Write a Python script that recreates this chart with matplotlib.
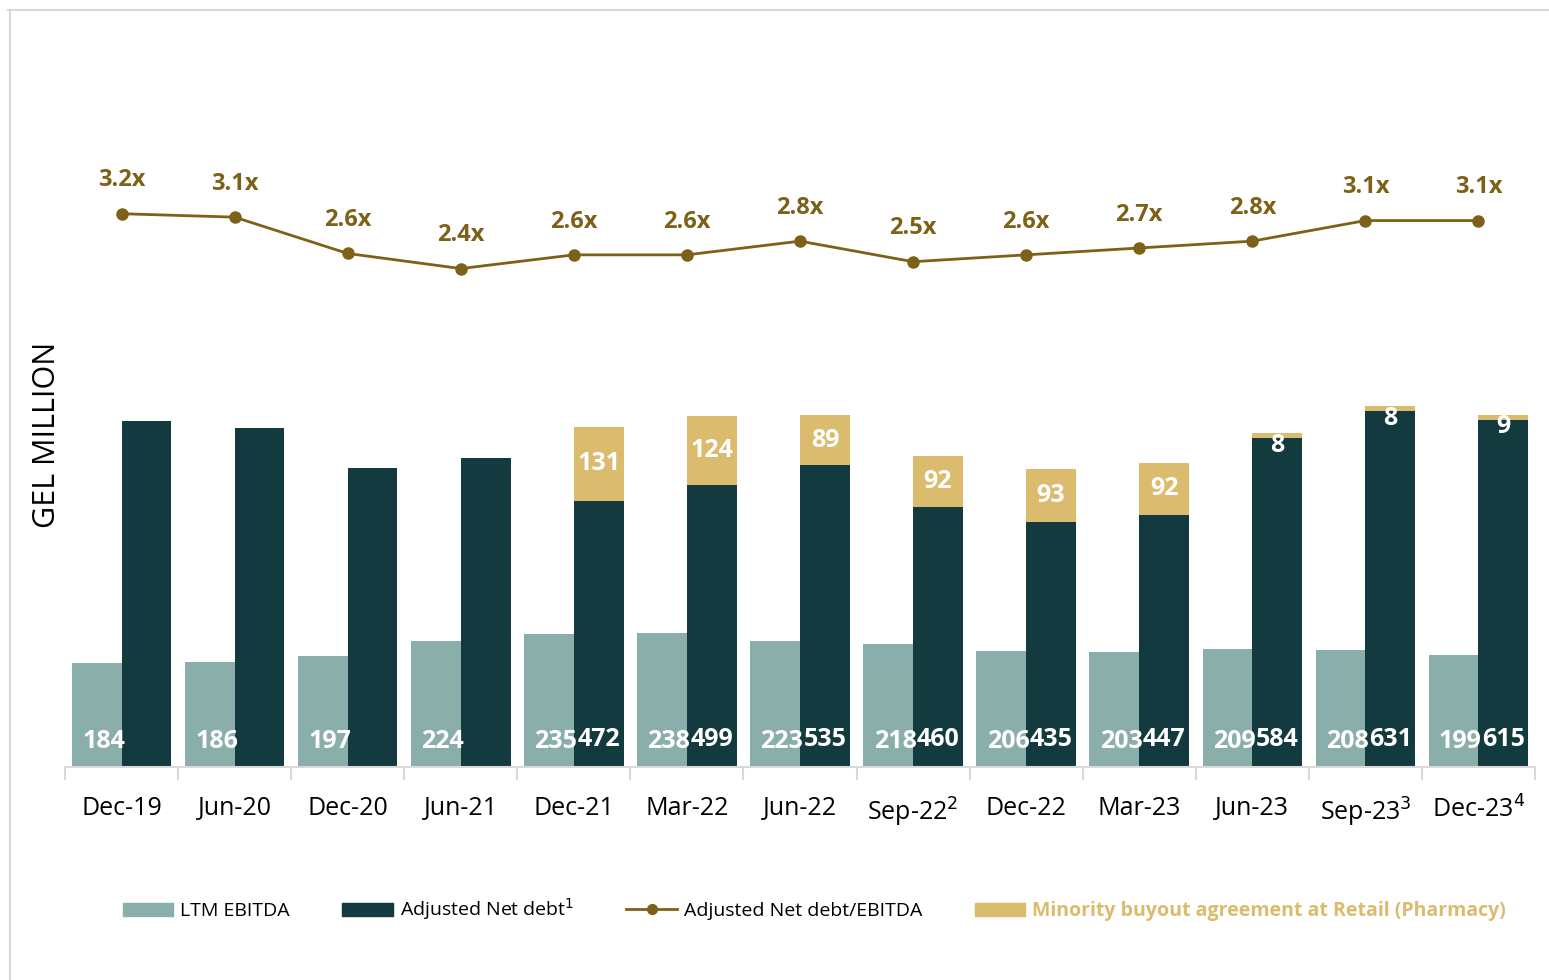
import numpy as np
import matplotlib.pyplot as plt
from matplotlib.patches import Patch
from matplotlib.lines import Line2D

plt.rcParams['font.family'] = ['Open Sans', 'DejaVu Sans']

periods = ['Dec-19', 'Jun-20', 'Dec-20', 'Jun-21', 'Dec-21', 'Mar-22', 'Jun-22',
           'Sep-22$^2$', 'Dec-22', 'Mar-23', 'Jun-23', 'Sep-23$^3$', 'Dec-23$^4$']
ebitda = [184, 186, 197, 224, 235, 238, 223, 218, 206, 203, 209, 208, 199]
net_debt = [613, 601, 530, 548, 472, 499, 535, 460, 435, 447, 584, 631, 615]
net_debt_labels = [None, None, None, None, 472, 499, 535, 460, 435, 447, 584, 631, 615]
minority = [0, 0, 0, 0, 131, 124, 89, 92, 93, 92, 8, 8, 9]
ratio = [3.20, 3.15, 2.62, 2.40, 2.60, 2.60, 2.80, 2.50, 2.60, 2.70, 2.80, 3.10, 3.10]
ratio_labels = ['3.2x', '3.1x', '2.6x', '2.4x', '2.6x', '2.6x', '2.8x', '2.5x',
                '2.6x', '2.7x', '2.8x', '3.1x', '3.1x']

c_ebitda = '#8aafab'
c_debt = '#133a3f'
c_gold = '#dbbb6e'
c_line = '#7d6119'

fig = plt.figure(figsize=(15.49, 9.8), dpi=100)
ax = fig.add_axes([65 / 1549, 213 / 980, 1470 / 1549, 567 / 980])

x = np.arange(len(periods))
w = 0.44
ax.bar(x - w / 2, ebitda, w, color=c_ebitda)
ax.bar(x + w / 2, net_debt, w, color=c_debt)
ax.bar(x + w / 2, minority, w, bottom=net_debt, color=c_gold)

ax.set_xlim(-0.5, len(periods) - 0.5)
ax.set_ylim(0, 1005)

px = 1005 / 567  # data units per pixel
for i in range(len(periods)):
    ax.text(x[i] - w / 2 + 0.06, 26 * px, str(ebitda[i]), color='white',
            fontsize=18, fontweight='bold', ha='center', va='center')
    if net_debt_labels[i] is not None:
        ax.text(x[i] + w / 2, 28 * px, str(net_debt_labels[i]), color='white',
                fontsize=18, fontweight='bold', ha='center', va='center')
    if minority[i] > 0:
        top = net_debt[i] + minority[i]
        y = min(net_debt[i] + minority[i] / 2, top - 12 * px)
        ax.text(x[i] + w / 2, y, str(minority[i]), color='white',
                fontsize=18, fontweight='bold', ha='center', va='center')

for s in ['top', 'right', 'left']:
    ax.spines[s].set_visible(False)
ax.spines['bottom'].set_color('#d9d9d9')
ax.spines['bottom'].set_linewidth(1.5)
ax.set_yticks([])
ax.set_xticks(np.arange(len(periods) + 1) - 0.5)
ax.set_xticklabels([])
ax.tick_params(axis='x', length=9, color='#d9d9d9', width=1.5)
ax.set_xticks(x, minor=True)
ax.set_xticklabels(periods, minor=True, fontsize=18)
ax.tick_params(axis='x', which='minor', length=0, pad=21)

ax.set_ylabel('GEL MILLION', fontsize=22)
ax.yaxis.set_label_coords(-0.002, 0.585)

ax2 = ax.twinx()
ax2.set_ylim(-4.87, 3.40)
ax2.plot(x, ratio, color=c_line, lw=2, marker='o', markersize=8)
for i in range(len(periods)):
    ax2.annotate(ratio_labels[i], (x[i], ratio[i]), xytext=(0, 24),
                 textcoords='offset points', ha='center', va='center',
                 color=c_line, fontsize=17, fontweight='bold')
ax2.axis('off')

handles = [Patch(color=c_ebitda), Patch(color=c_debt),
           Line2D([], [], color=c_line, lw=2, marker='o', markersize=7),
           Patch(color=c_gold)]
labels = ['LTM EBITDA', 'Adjusted Net debt$^1$', 'Adjusted Net debt/EBITDA',
          'Minority buyout agreement at Retail (Pharmacy)']
leg = fig.legend(handles, labels, loc='center left', bbox_to_anchor=(0.068, 0.072),
                 ncol=4, frameon=False, fontsize=14, handlelength=2.6,
                 handletextpad=0.35, columnspacing=2.7)
leg.get_texts()[3].set_color(c_gold)
leg.get_texts()[3].set_fontweight('bold')

# light frame along top and left
fig.add_artist(Line2D([8 / 1549, 1], [1 - 10 / 980, 1 - 10 / 980], color='#d9d9d9', lw=1.5))
fig.add_artist(Line2D([10 / 1549, 10 / 1549], [0, 1 - 10 / 980], color='#d9d9d9', lw=1.5))

fig.savefig('out.png', dpi=100, facecolor='white')
